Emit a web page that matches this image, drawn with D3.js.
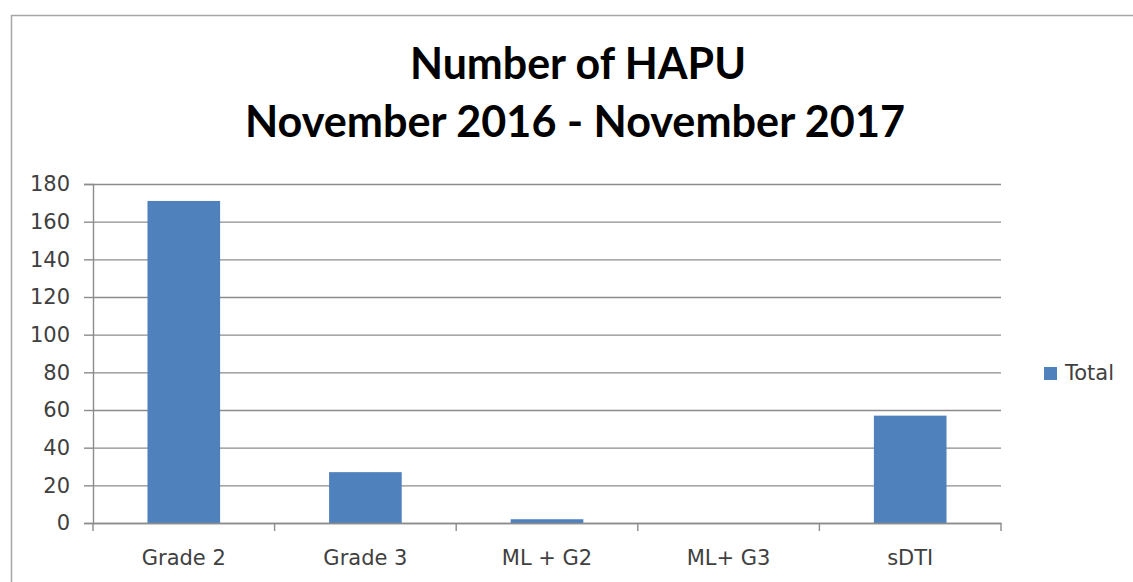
<!DOCTYPE html>
<html>
<head>
<meta charset="utf-8">
<script src="https://cdn.jsdelivr.net/npm/d3@7"></script>
<style>
  html, body { margin: 0; padding: 0; background: #fff; }
  svg { display: block; }
  .tick text { font-family: "DejaVu Sans", sans-serif; fill: #404040; }
</style>
</head>
<body>
<div id="chart"></div>
<script>
// chart data
var categories = ["Grade 2", "Grade 3", "ML + G2", "ML+ G3", "sDTI"];
var totals = [171, 27, 2, 0, 57];
var yTicks = [0, 20, 40, 60, 80, 100, 120, 140, 160, 180];
var seriesName = "Total";
var titleLines = ["Number of HAPU", "November 2016 - November 2017"];

var width = 1133, height = 582;
var margin = {top: 184, right: 132, bottom: 59, left: 93};
var plotW = width - margin.left - margin.right,
    plotH = height - margin.top - margin.bottom;

var barColor = "#4f81bd",
    gridColor = "#8c8c8c";

var svg = d3.select("#chart").append("svg")
    .attr("width", width)
    .attr("height", height);

// chart area border (runs off the right and bottom edges)
svg.append("rect")
    .attr("x", 11.5).attr("y", 15.5)
    .attr("width", width + 20).attr("height", height + 20)
    .attr("fill", "#fff")
    .attr("stroke", "#a6a6a6")
    .attr("stroke-width", 1.5);

// title
var titleX = [578, 575];
var titleY = [79, 137];
var titleW = [336, 660];
svg.selectAll(".title").data(titleLines)
  .enter().append("text")
    .attr("class", "title")
    .attr("x", function (d, i) { return titleX[i]; })
    .attr("y", function (d, i) { return titleY[i]; })
    .attr("text-anchor", "middle")
    .attr("textLength", function (d, i) { return titleW[i]; })
    .attr("lengthAdjust", "spacingAndGlyphs")
    .style("font-family", "Lato, 'Open Sans', sans-serif")
    .style("font-weight", "bold")
    .style("font-size", "43px")
    .style("fill", "#000")
    .text(function (d) { return d; });

var g = svg.append("g")
    .attr("transform", "translate(" + margin.left + "," + margin.top + ")");

var x = d3.scaleBand()
    .domain(categories)
    .range([0, plotW])
    .paddingInner(0.6)
    .paddingOuter(0.3);

var y = d3.scaleLinear()
    .domain([0, 180])
    .range([plotH, 0]);

// gridlines
var grid = g.append("g")
    .attr("class", "grid")
    .call(d3.axisLeft(y).tickValues(yTicks).tickSize(-plotW).tickFormat(""));
grid.select(".domain").remove();
grid.selectAll("line")
    .attr("stroke", gridColor)
    .attr("stroke-width", 1.4);

// bars
g.selectAll(".bar").data(totals)
  .enter().append("rect")
    .attr("class", "bar")
    .attr("x", function (d, i) { return x(categories[i]); })
    .attr("y", function (d) { return y(d); })
    .attr("width", x.bandwidth())
    .attr("height", function (d) { return plotH - y(d); })
    .attr("fill", barColor);

// y axis
var yaxis = g.append("g")
    .call(d3.axisLeft(y).tickValues(yTicks).tickSize(9).tickPadding(14));
yaxis.select(".domain").attr("stroke", gridColor).attr("stroke-width", 1.4);
yaxis.selectAll("line").attr("stroke", gridColor).attr("stroke-width", 1.4);
yaxis.selectAll("text").style("font-size", "21px");

// x axis: labels at band centres, ticks at band boundaries
var xaxis = g.append("g")
    .attr("transform", "translate(0," + plotH + ")")
    .call(d3.axisBottom(x).tickSize(0).tickPadding(27));
xaxis.select(".domain").attr("stroke", gridColor).attr("stroke-width", 1.4);
xaxis.selectAll("text").style("font-size", "21px");

var half = x.step() * x.paddingInner() / 2;
var bounds = categories.map(function (c) { return x(c) - half; });
bounds.push(x(categories[categories.length - 1]) + x.bandwidth() + half);
xaxis.selectAll(".sep").data(bounds)
  .enter().append("line")
    .attr("class", "sep")
    .attr("x1", function (d) { return d; })
    .attr("x2", function (d) { return d; })
    .attr("y1", 0).attr("y2", 8)
    .attr("stroke", gridColor)
    .attr("stroke-width", 1.4);

// legend
var legend = svg.append("g")
    .attr("transform", "translate(1044,367)");
legend.append("rect")
    .attr("width", 13).attr("height", 13)
    .attr("fill", barColor);
legend.append("text")
    .attr("x", 21).attr("y", 13)
    .style("font-family", "'DejaVu Sans', sans-serif")
    .style("font-size", "21px")
    .style("fill", "#404040")
    .text(seriesName);
</script>
</body>
</html>
